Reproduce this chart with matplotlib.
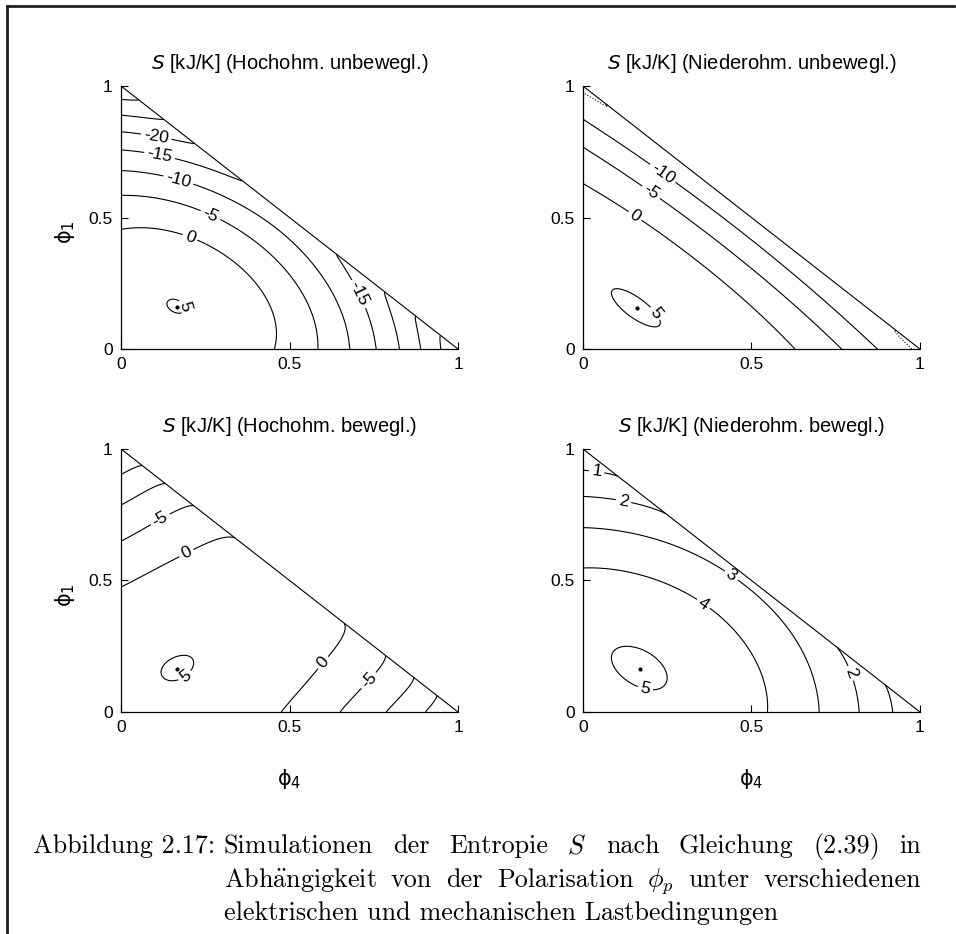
import numpy as np
import matplotlib
matplotlib.use('Agg')
import matplotlib.pyplot as plt
import matplotlib.tri as mtri
from matplotlib.lines import Line2D

TITLES = ['Hochohm. unbewegl.', 'Niederohm. unbewegl.',
          'Hochohm. bewegl.', 'Niederohm. bewegl.']

LEVELS = [[-30, -25, -20, -15, -10, -5, 0, 5],
          [-15, -10, -5, 0, 5],
          [-15, -10, -5, 0, 5],
          [1, 2, 3, 4, 5]]
DOTTED_LEVELS = [[], [-15], [], []]

# location and height of the entropy maximum (phi4, phi1, S)
PEAKS = [(1 / 6, 1 / 6, 5.06), (1 / 6, 1 / 6, 5.1),
         (1 / 6, 1 / 6, 5.1), (1 / 6, 1 / 6, 5.06)]

# S [kJ/K], (phi4, phi1, S)
PHI4_HU = [0.0, 0.075, 0.205, 0.284, 0.353, 0.412, 0.447, 0.456,
           0.0, 0.075, 0.234, 0.38, 0.479, 0.548, 0.578, 0.58,
           0.0, 0.104, 0.17, 0.284, 0.433, 0.532, 0.611, 0.66, 0.677,
           0.0, 0.115, 0.234, 0.347, 0.634, 0.70, 0.757,
           0.0, 0.105, 0.21, 0.778, 0.828,
           0.0, 0.12, 0.87, 0.89,
           0.0, 0.035, 0.944, 0.95,
           0.147, 0.187, 0.167, 0.167, 0.5]
PHI1_HU = [0.451, 0.458, 0.426, 0.376, 0.313, 0.224, 0.122, 0.0,
           0.578, 0.585, 0.527, 0.415, 0.313, 0.199, 0.06, 0.0,
           0.679, 0.669, 0.642, 0.592, 0.491, 0.377, 0.25, 0.122, 0.0,
           0.757, 0.741, 0.694, 0.643, 0.357, 0.206, 0.0,
           0.83, 0.812, 0.779, 0.21, 0.0,
           0.893, 0.874, 0.125, 0.0,
           0.95, 0.943, 0.04, 0.0,
           0.167, 0.167, 0.147, 0.187, 0.5]
S_HU = [0] * 8 + [-5] * 8 + [-10] * 9 + [-15] * 7 + [-20] * 5 + [-25] * 4 \
    + [-30] * 4 + [5] * 4 + [-12.5]

PHI4_NU = [0.0, 0.153, 0.325, 0.627,
           0.0, 0.203, 0.405, 0.765,
           0.0, 0.237, 0.457, 0.875,
           0.01, 0.084, 0.905, 0.965,
           0.106, 0.226, 0.155, 0.178, 0.5, 0.0, 0.0]
PHI1_NU = [0.63, 0.503, 0.325, 0.0,
           0.773, 0.598, 0.405, 0.0,
           0.881, 0.668, 0.457, 0.0,
           0.97, 0.909, 0.079, 0.01,
           0.226, 0.106, 0.155, 0.178, 0.5, 0.33, 0.0]
S_NU = [0] * 4 + [-5] * 4 + [-10] * 4 + [-15] * 4 + [5] * 4 + [-13, 4.2, 3.0]

PHI4_HB = [0.0, 0.195, 0.321, 0.472, 0.60, 0.667,
           0.0, 0.116, 0.2, 0.652, 0.734, 0.781,
           0.0, 0.12, 0.79, 0.864,
           0.0, 0.048, 0.904, 0.932,
           0.135, 0.2, 0.152, 0.182, 0.5]
PHI1_HB = [0.472, 0.601, 0.664, 0.0, 0.187, 0.317,
           0.649, 0.734, 0.78, 0.0, 0.121, 0.193,
           0.788, 0.866, 0.0, 0.115,
           0.904, 0.932, 0.0, 0.046,
           0.135, 0.2, 0.182, 0.152, 0.5]
S_HB = [0] * 6 + [-5] * 6 + [-10] * 4 + [-15] * 4 + [5] * 4 + [2.5]

PHI4_NB = [0.0, 0.05, 0.358, 0.447, 0.517, 0.547,
           0.0, 0.437, 0.586, 0.676, 0.705,
           0.0, 0.12, 0.217, 0.768, 0.792, 0.822,
           0.015, 0.08, 0.909, 0.918,
           0.106, 0.228, 0.127, 0.207, 0.5]
PHI1_NB = [0.544, 0.548, 0.412, 0.311, 0.172, 0.0,
           0.702, 0.513, 0.374, 0.172, 0.0,
           0.82, 0.80, 0.768, 0.216, 0.146, 0.0,
           0.917, 0.904, 0.077, 0.0,
           0.228, 0.106, 0.127, 0.207, 0.5]
S_NB = [4] * 6 + [3] * 5 + [2] * 6 + [1] * 4 + [5] * 4 + [2.7]

PANELS = [(PHI4_HU, PHI1_HU, S_HU), (PHI4_NU, PHI1_NU, S_NU),
          (PHI4_HB, PHI1_HB, S_HB), (PHI4_NB, PHI1_NB, S_NB)]

# where the contour labels sit
LABEL_POS = [
    [(0.205, 0.426), (0.264, 0.505), (0.17, 0.642), (0.115, 0.741),
     (0.70, 0.206), (0.105, 0.812), (0.185, 0.16)],
    [(0.153, 0.503), (0.203, 0.598), (0.237, 0.668), (0.208, 0.129)],
    [(0.195, 0.601), (0.60, 0.187), (0.116, 0.734), (0.734, 0.121),
     (0.185, 0.146)],
    [(0.04, 0.91), (0.12, 0.80), (0.792, 0.146), (0.437, 0.513),
     (0.358, 0.412), (0.186, 0.094)],
]

CAPTION_TAG = 'Abbildung 2.17:'
CAPTION_LINES = [
    ['Simulationen', 'der', 'Entropie', '$S$', 'nach', 'Gleichung',
     '(2.39)', 'in'],
    [r'Abh$\ddot{\mathrm{a}}$ngigkeit', 'von', 'der', 'Polarisation',
     r'$\phi_p$', 'unter', 'verschiedenen'],
    ['elektrischen und mechanischen Lastbedingungen'],
]


def xlogx(v):
    v = np.asarray(v, float)
    return np.where(v > 0, v * np.log(np.maximum(v, 1e-300)), 0.0)


def basis(x, y):
    x = np.asarray(x, float)
    y = np.asarray(y, float)
    s = x + y
    d2 = (x - y) ** 2
    r = np.clip(1 - s, 0, 1)
    return np.stack([np.ones_like(s), s, s ** 2, s ** 3, d2, d2 * s,
                     xlogx(x) + xlogx(y), xlogx(r)], axis=-1)


def fit_surface(px, py, ps, peak):
    ps = np.asarray(ps, float)
    cx, cy, cz = peak
    h = 1e-4
    rows = [basis(px, py), basis([cx], [cy]),
            (basis([cx + h], [cy]) - basis([cx - h], [cy])) / (2 * h)]
    rhs = np.concatenate([ps, [cz], [0.0]])
    # the small ring round the maximum gets more weight
    w = np.concatenate([np.where(np.isclose(ps, 5), 4.0, 1.0), [8.0], [0.3]])
    A = np.vstack(rows) * w[:, None]
    coef, *_ = np.linalg.lstsq(A, rhs * w, rcond=None)
    return coef


def justify(fig, words, y, x0, x1, **kw):
    rend = fig.canvas.get_renderer()
    texts = [fig.text(x0, y, w, va='baseline', **kw) for w in words]
    if len(texts) == 1:
        return
    widths = [t.get_window_extent(rend).width / fig.bbox.width for t in texts]
    gap = (x1 - x0 - sum(widths)) / (len(texts) - 1)
    x = x0
    for t, wd in zip(texts, widths):
        t.set_x(x)
        x += wd + gap


# triangular mesh over the simplex phi1 + phi4 <= 1
N = 200
ii, jj = np.meshgrid(np.arange(N + 1), np.arange(N + 1))
keep = ii + jj <= N
gx = ii[keep] / N
gy = jj[keep] / N
tri = mtri.Triangulation(gx, gy)

plt.rcParams['font.family'] = ['Liberation Sans', 'DejaVu Sans']
plt.rcParams['mathtext.fontset'] = 'dejavusans'

fig = plt.figure(figsize=(9.56, 9.34), dpi=100)
boxes = [(0.1266, 0.6263), (0.6098, 0.6263), (0.1266, 0.2377), (0.6098, 0.2377)]

for k, (left, bottom) in enumerate(boxes):
    ax = fig.add_axes([left, bottom, 0.3525, 0.2816])
    px, py, ps = PANELS[k]
    coef = fit_surface(px, py, ps, PEAKS[k])
    z = basis(gx, gy) @ coef
    styles = ['dotted' if lv in DOTTED_LEVELS[k] else 'solid' for lv in LEVELS[k]]
    cs = ax.tricontour(tri, z, levels=LEVELS[k], colors='k', linewidths=0.8,
                       linestyles=styles)
    ax.clabel(cs, fmt=lambda v: '%d' % v, manual=LABEL_POS[k], inline=True,
              inline_spacing=3, fontsize=12.5)
    top = np.argmax(z)
    ax.plot(gx[top], gy[top], 'o', color='k', ms=2)
    ax.plot([0, 1], [1, 0], color='k', lw=0.8)
    ax.set_xlim(0, 1)
    ax.set_ylim(0, 1)
    ax.set_xticks([0, 0.5, 1])
    ax.set_yticks([0, 0.5, 1])
    ax.set_xticklabels(['0', '0.5', '1'])
    ax.set_yticklabels(['0', '0.5', '1'])
    ax.tick_params(direction='in', length=5, width=0.8, labelsize=12.5, pad=6)
    for sp in ('top', 'right'):
        ax.spines[sp].set_visible(False)
    for sp in ('left', 'bottom'):
        ax.spines[sp].set_linewidth(0.9)
    ax.set_title(r'$\it{S}$ [kJ/K] (' + TITLES[k] + ')', fontsize=14.5, pad=12)
    if k % 2 == 0:
        ax.set_ylabel(r'$\mathrm{\phi}_1$', fontsize=15)
        ax.yaxis.set_label_coords(-0.13, 0.445)
    if k >= 2:
        ax.set_xlabel(r'$\mathrm{\phi}_4$', fontsize=15)
        ax.xaxis.set_label_coords(0.5, -0.21)

# page frame
fig.add_artist(Line2D([0.0078, 0.9979], [0.9941, 0.9941], color='#231f20', lw=2))
fig.add_artist(Line2D([0.0078, 0.0078], [0.0, 0.9941], color='#231f20', lw=2))

cap = dict(family=['cmr10', 'DejaVu Serif'], fontsize=18.8, math_fontfamily='cm')
fig.text(0.0345, 0.0867, CAPTION_TAG, va='baseline', **cap)
for words, y in zip(CAPTION_LINES, [0.0867, 0.0503, 0.0150]):
    justify(fig, words, y, 0.2343, 0.9634, **cap)

fig.savefig('out.png', dpi=100)
